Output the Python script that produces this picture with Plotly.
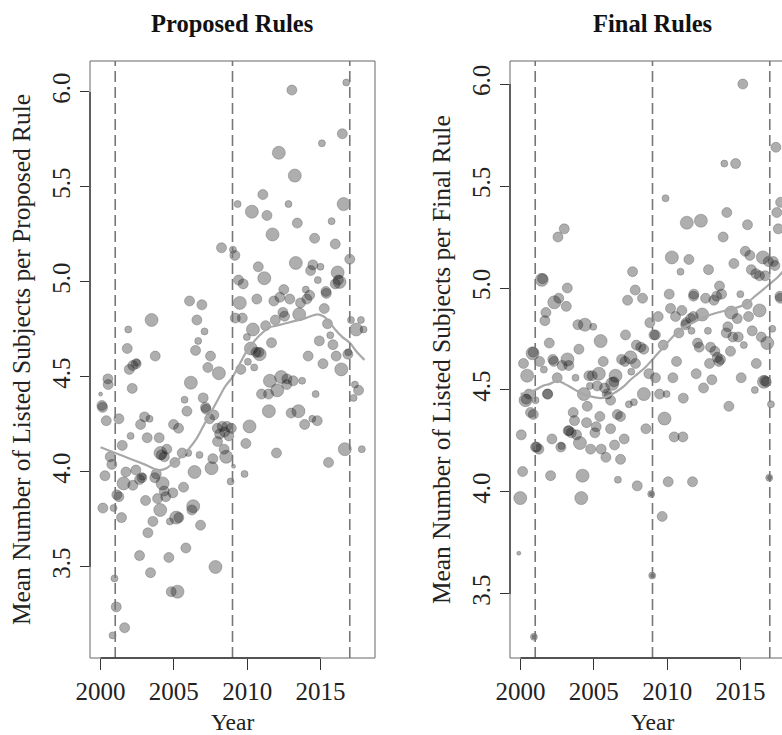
import plotly.graph_objects as go

# ---------------- data ----------------
# Proposed rules: (year, mean number of listed subjects, size class of the month's rule count)
p_year = [2013.05, 2016.76, 2016.49, 2015.10, 2012.16, 2013.25, 2011.07, 2009.35, 2012.82, 2016.58,
          2010.32, 2011.35, 2013.42, 2015.76, 2011.73, 2014.60, 2016.01, 2008.25, 2009.03, 2009.16,
          2017.00, 2010.76, 2013.32, 2014.48, 2015.00, 2014.33, 2016.17, 2011.17, 2009.41, 2009.73,
          2014.82, 2016.30, 2016.22, 2016.01, 2012.50, 2014.00, 2014.26, 2015.37, 2015.40, 2006.07,
          2006.91, 2009.50, 2010.66, 2011.82, 2012.23, 2012.91, 2013.64, 2014.07, 2015.26, 2003.48,
          2006.57, 2009.19, 2009.67, 2011.26, 2011.92, 2012.44, 2012.55, 2013.55, 2015.48, 2017.08,
          2017.76, 2017.44, 2017.94, 2001.89, 2007.09, 2010.39, 2009.98, 2015.67, 2011.66, 2014.92,
          2015.85, 2006.66, 2001.82, 2006.48, 2010.25, 2010.85, 2010.80, 2010.60, 2007.50, 2003.73,
          2014.16, 2016.07, 2016.87, 2016.90, 2002.43, 2002.47, 2002.20, 2001.96, 2007.32, 2008.07,
          2010.05, 2010.48, 2009.57, 2015.17, 2016.42, 2000.50, 2000.52, 2002.16, 2006.16, 2011.55,
          2012.32, 2012.71, 2013.14, 2013.75, 2012.70, 2012.05, 2010.98, 2011.46, 2014.67, 2017.35,
          2017.60, 2017.26, 2000.00, 2005.73, 2007.00, 2000.09, 2000.14, 2005.89, 2007.16, 2007.20,
          2011.48, 2013.00, 2013.50, 2000.39, 2001.25, 2003.00, 2003.34, 2007.44, 2007.73, 2014.44,
          2014.78, 2013.92, 2010.16, 2002.73, 2004.98, 2005.32, 2007.96, 2008.30, 2008.62, 2008.92,
          2008.12, 2008.46, 2008.75, 2002.05, 2003.18, 2004.00, 2001.48, 2007.98, 2009.91, 2012.00,
          2016.66, 2017.82, 2004.09, 2004.15, 2004.52, 2004.35, 2005.57, 2005.98, 2006.75, 2008.43,
          2008.57, 2000.66, 2000.77, 2015.55, 2005.07, 2007.66, 2009.07, 2000.30, 2001.73, 2002.41,
          2003.80, 2003.70, 2001.57, 2002.20, 2002.66, 2002.82, 2002.86, 2006.41, 2007.57, 2009.82,
          2008.87, 2004.23, 2005.66, 2001.11, 2001.25, 2004.34, 2004.45, 2004.93, 2003.89, 2003.07,
          2000.16, 2000.89, 2004.07, 2006.23, 2006.32, 2001.43, 2005.16, 2005.34, 2004.73, 2003.57,
          2006.82, 2003.23, 2005.82, 2002.66, 2004.66, 2007.84, 2003.41, 2004.82, 2005.25, 2000.95,
          2001.07, 2001.64, 2000.82]
p_mean = [6.01, 6.05, 5.78, 5.73, 5.68, 5.56, 5.46, 5.41, 5.41, 5.41,
          5.37, 5.35, 5.31, 5.32, 5.25, 5.23, 5.20, 5.18, 5.17, 5.14,
          5.12, 5.08, 5.10, 5.09, 5.08, 5.06, 5.05, 5.02, 5.01, 4.99,
          5.01, 5.00, 5.01, 4.99, 4.96, 4.96, 4.93, 4.95, 4.94, 4.90,
          4.88, 4.89, 4.91, 4.90, 4.92, 4.91, 4.89, 4.91, 4.86, 4.80,
          4.80, 4.81, 4.81, 4.77, 4.80, 4.84, 4.82, 4.83, 4.78, 4.80,
          4.80, 4.75, 4.75, 4.75, 4.74, 4.75, 4.71, 4.72, 4.68, 4.69,
          4.67, 4.69, 4.65, 4.64, 4.65, 4.62, 4.63, 4.63, 4.61, 4.61,
          4.61, 4.61, 4.62, 4.63, 4.57, 4.575, 4.56, 4.54, 4.55, 4.52,
          4.58, 4.55, 4.54, 4.57, 4.54, 4.49, 4.46, 4.44, 4.47, 4.48,
          4.50, 4.49, 4.48, 4.48, 4.46, 4.43, 4.41, 4.41, 4.41, 4.46,
          4.43, 4.39, 4.41, 4.38, 4.39, 4.35, 4.34, 4.32, 4.34, 4.33,
          4.32, 4.31, 4.32, 4.27, 4.28, 4.29, 4.28, 4.28, 4.30, 4.28,
          4.27, 4.25, 4.24, 4.25, 4.25, 4.23, 4.23, 4.24, 4.24, 4.23,
          4.20, 4.21, 4.19, 4.19, 4.18, 4.18, 4.14, 4.16, 4.15, 4.10,
          4.12, 4.12, 4.10, 4.09, 4.12, 4.08, 4.10, 4.10, 4.09, 4.12,
          4.08, 4.08, 4.04, 4.05, 4.05, 4.07, 4.03, 3.98, 4.00, 4.01,
          3.99, 3.97, 3.94, 3.93, 3.96, 3.97, 3.975, 4.00, 4.02, 3.99,
          3.95, 3.94, 3.92, 3.88, 3.87, 3.90, 3.87, 3.89, 3.86, 3.85,
          3.81, 3.81, 3.80, 3.80, 3.82, 3.76, 3.76, 3.76, 3.74, 3.74,
          3.72, 3.68, 3.60, 3.56, 3.55, 3.50, 3.47, 3.37, 3.37, 3.44,
          3.29, 3.18, 3.14]
p_weight = [2, 1, 2, 1, 3, 3, 2, 1, 1, 3,
            3, 2, 2, 1, 3, 2, 2, 2, 1, 2,
            2, 2, 3, 2, 1, 2, 3, 3, 2, 2,
            1, 3, 2, 2, 2, 1, 2, 2, 2, 2,
            2, 3, 2, 2, 2, 2, 2, 2, 2, 3,
            2, 2, 2, 2, 2, 2, 2, 3, 2, 1,
            1, 3, 1, 1, 1, 3, 1, 1, 2, 2,
            2, 1, 2, 2, 3, 3, 2, 2, 2, 2,
            2, 2, 2, 1, 2, 1, 2, 2, 2, 3,
            1, 1, 2, 2, 3, 2, 2, 2, 3, 3,
            3, 2, 2, 1, 2, 3, 2, 2, 1, 1,
            2, 1, 0, 1, 2, 2, 2, 2, 2, 2,
            3, 2, 3, 2, 2, 2, 1, 2, 2, 1,
            2, 2, 3, 2, 2, 2, 2, 2, 2, 2,
            2, 2, 2, 1, 2, 2, 2, 2, 2, 2,
            3, 1, 3, 2, 2, 2, 2, 1, 1, 2,
            3, 2, 2, 2, 2, 2, 0, 2, 2, 2,
            2, 2, 3, 2, 2, 2, 1, 3, 3, 1,
            1, 3, 2, 2, 2, 2, 2, 2, 2, 2,
            2, 1, 3, 2, 3, 2, 3, 2, 1, 2,
            2, 2, 2, 2, 2, 3, 2, 2, 3, 1,
            2, 2, 1]

# Final rules
f_year = [2015.16, 2017.42, 2013.90, 2014.67, 2009.89, 2017.74, 2017.48, 2014.07, 2011.34, 2012.30,
          2015.48, 2017.58, 2002.55, 2002.98, 2013.82, 2010.32, 2011.48, 2015.33, 2015.64, 2016.53,
          2016.90, 2017.24, 2017.35, 2014.55, 2010.91, 2012.82, 2015.74, 2016.05, 2016.30, 2016.69,
          2007.64, 2001.45, 2001.50, 2003.19, 2007.82, 2002.61, 2002.30, 2007.30, 2008.32, 2010.14,
          2011.82, 2011.80, 2012.62, 2013.19, 2013.37, 2013.57, 2013.71, 2014.99, 2015.46, 2017.69,
          2017.72, 2003.12, 2001.66, 2001.73, 2003.91, 2004.39, 2004.96, 2008.82, 2009.39, 2010.23,
          2010.57, 2011.00, 2011.26, 2011.30, 2011.60, 2011.78, 2012.39, 2012.78, 2011.66, 2010.80,
          2014.37, 2014.78, 2015.55, 2016.30, 2015.80, 2017.17, 2014.14, 2014.03, 2014.48, 2014.85,
          2016.42, 2016.83, 2015.23, 2014.32, 2001.96, 2005.46, 2007.16, 2009.10, 2009.20, 2009.73,
          2007.90, 2008.20, 2008.40, 2012.19, 2012.07, 2012.96, 2013.25, 2013.42, 2013.64, 2012.89,
          2000.82, 2000.86, 2000.20, 2001.30, 2001.59, 2002.20, 2002.27, 2002.84, 2003.20, 2003.29,
          2003.98, 2005.64, 2006.89, 2007.12, 2007.50, 2007.84, 2007.55, 2008.75, 2010.64, 2011.98,
          2013.05, 2013.53, 2016.08, 2015.05, 2015.98, 2016.60, 2016.65, 2016.76, 2017.08, 2000.45,
          2002.50, 2003.75, 2004.66, 2004.89, 2005.34, 2004.73, 2005.23, 2005.73, 2006.37, 2006.48,
          2006.25, 2004.32, 2001.86, 2001.83, 2000.57, 2000.34, 2000.38, 2001.02, 2005.91, 2005.95,
          2006.14, 2004.55, 2007.39, 2007.73, 2008.41, 2009.48, 2009.96, 2011.10, 2014.21, 2000.68,
          2000.87, 2003.59, 2003.68, 2005.41, 2006.60, 2006.82, 2009.82, 2004.50, 2005.16, 2005.07,
          2006.14, 2003.25, 2003.30, 2003.46, 2003.82, 2004.05, 2000.05, 2002.14, 2008.55, 2007.07,
          2010.48, 2011.07, 2001.02, 2001.10, 2001.25, 2002.75, 2002.79, 2004.78, 2005.50, 2005.82,
          2006.41, 2006.82, 2000.14, 2002.05, 2004.23, 2006.64, 2007.96, 2010.07, 2011.73, 1999.98,
          2004.14, 2008.91, 2008.93, 2009.66, 2016.96, 2016.98, 1999.88, 2008.98, 2009.00, 2000.91,
          2000.93, 2009.20, 2010.39, 2012.48]
f_mean = [6.00, 5.69, 5.61, 5.61, 5.44, 5.42, 5.37, 5.37, 5.32, 5.33,
          5.31, 5.29, 5.25, 5.29, 5.25, 5.15, 5.14, 5.18, 5.16, 5.15,
          5.13, 5.13, 5.11, 5.12, 5.08, 5.09, 5.09, 5.07, 5.06, 5.06,
          5.08, 5.04, 5.045, 5.00, 4.99, 4.95, 4.93, 4.94, 4.95, 4.97,
          4.97, 4.96, 4.95, 4.94, 4.96, 5.01, 4.97, 4.97, 4.92, 4.96,
          4.95, 4.91, 4.84, 4.88, 4.82, 4.82, 4.81, 4.83, 4.86, 4.90,
          4.86, 4.89, 4.82, 4.83, 4.85, 4.86, 4.87, 4.79, 4.79, 4.78,
          4.88, 4.85, 4.86, 4.89, 4.79, 4.80, 4.81, 4.78, 4.76, 4.76,
          4.76, 4.73, 4.72, 4.69, 4.73, 4.74, 4.77, 4.77, 4.77, 4.72,
          4.72, 4.71, 4.70, 4.71, 4.73, 4.71, 4.69, 4.66, 4.65, 4.63,
          4.68, 4.685, 4.63, 4.64, 4.60, 4.65, 4.64, 4.62, 4.65, 4.62,
          4.70, 4.64, 4.65, 4.64, 4.66, 4.63, 4.59, 4.58, 4.64, 4.58,
          4.55, 4.64, 4.63, 4.56, 4.50, 4.54, 4.545, 4.54, 4.43, 4.57,
          4.56, 4.56, 4.57, 4.57, 4.58, 4.52, 4.52, 4.51, 4.54, 4.57,
          4.53, 4.48, 4.48, 4.48, 4.48, 4.45, 4.455, 4.45, 4.48, 4.475,
          4.45, 4.42, 4.43, 4.44, 4.48, 4.48, 4.48, 4.46, 4.42, 4.39,
          4.38, 4.39, 4.35, 4.37, 4.38, 4.37, 4.36, 4.34, 4.32, 4.29,
          4.31, 4.30, 4.30, 4.29, 4.28, 4.24, 4.28, 4.26, 4.31, 4.26,
          4.27, 4.27, 4.22, 4.22, 4.21, 4.22, 4.225, 4.21, 4.21, 4.17,
          4.23, 4.16, 4.10, 4.08, 4.08, 4.06, 4.03, 4.05, 4.05, 3.97,
          3.97, 3.99, 3.99, 3.88, 4.07, 4.07, 3.70, 3.59, 3.59, 3.29,
          3.29, 4.56, 4.56, 4.51]
f_weight = [2, 2, 1, 2, 1, 2, 2, 2, 3, 3,
            2, 2, 2, 2, 2, 3, 2, 2, 2, 3,
            2, 2, 2, 2, 1, 2, 2, 2, 2, 2,
            2, 3, 2, 2, 2, 2, 3, 2, 2, 2,
            2, 2, 2, 2, 2, 2, 2, 1, 2, 2,
            2, 2, 2, 2, 2, 3, 1, 2, 2, 2,
            2, 2, 2, 2, 2, 2, 3, 1, 1, 2,
            3, 2, 2, 3, 2, 1, 2, 2, 2, 2,
            2, 3, 1, 2, 2, 3, 2, 2, 2, 2,
            2, 2, 2, 2, 2, 2, 2, 2, 2, 2,
            3, 2, 2, 2, 1, 2, 2, 2, 3, 2,
            2, 2, 2, 2, 3, 2, 1, 2, 2, 2,
            2, 2, 2, 2, 1, 3, 2, 2, 1, 3,
            2, 1, 2, 2, 3, 1, 2, 2, 2, 3,
            3, 3, 2, 2, 2, 3, 2, 1, 2, 1,
            2, 2, 1, 1, 3, 2, 1, 2, 2, 2,
            2, 2, 2, 2, 2, 2, 3, 2, 2, 2,
            2, 2, 2, 2, 2, 3, 2, 2, 2, 2,
            2, 2, 2, 2, 2, 2, 1, 2, 2, 2,
            2, 2, 2, 2, 3, 1, 2, 2, 2, 3,
            3, 1, 0, 2, 1, 0, 0, 1, 0, 1,
            0, 2, 2, 2]

# smoothed (loess) trend lines
p_smooth_year = [2000, 2001, 2002, 2003, 2004, 2004.5, 2005, 2005.5, 2006, 2006.5, 2007, 2007.5,
                 2008, 2008.5, 2009, 2009.5, 2010, 2010.5, 2011, 2011.5, 2012, 2013, 2014, 2014.8,
                 2015.2, 2015.5, 2016, 2016.5, 2017, 2017.5, 2018]
p_smooth = [4.13, 4.10, 4.07, 4.04, 4.01, 4.02, 4.05, 4.08, 4.12, 4.17, 4.24, 4.31,
            4.38, 4.45, 4.50, 4.57, 4.64, 4.69, 4.73, 4.76, 4.77, 4.79, 4.81, 4.83,
            4.82, 4.80, 4.75, 4.71, 4.68, 4.63, 4.59]
f_smooth_year = [2000, 2000.5, 2001, 2001.5, 2002, 2002.5, 2003, 2003.5, 2004, 2004.5, 2005, 2005.5,
                 2006, 2006.5, 2007, 2007.5, 2008, 2008.5, 2009, 2009.5, 2010, 2010.5, 2011, 2011.5,
                 2012, 2013, 2014, 2015, 2015.5, 2016, 2016.5, 2017, 2017.5, 2018]
f_smooth = [4.48, 4.49, 4.50, 4.52, 4.53, 4.545, 4.53, 4.51, 4.49, 4.475, 4.465, 4.46,
            4.47, 4.49, 4.515, 4.55, 4.58, 4.61, 4.65, 4.69, 4.73, 4.77, 4.80, 4.82,
            4.84, 4.87, 4.89, 4.91, 4.93, 4.96, 4.99, 5.02, 5.05, 5.09]

event_years = [2001, 2009, 2017]
x_ticks = [2000, 2005, 2010, 2015]
y_ticks = [3.5, 4.0, 4.5, 5.0, 5.5, 6.0]
panel_titles = ["Proposed Rules", "Final Rules"]
y_titles = ["Mean Number of Listed Subjects per Proposed Rule",
            "Mean Number of Listed Subjects per Final Rule"]
x_title = "Year"

# ---------------- figure ----------------
W, H = 782, 735
FONT = "Liberation Serif"
size_px = {0: 4, 1: 7, 2: 10, 3: 13}

def px_x(v):
    return v / W

def px_y(v):
    return (H - v) / H

fig = go.Figure()

marker_style = dict(color="rgba(25,25,25,0.5)", line=dict(color="rgba(25,25,25,0.38)", width=1))

fig.add_trace(go.Scatter(x=p_year, y=p_mean, mode="markers", xaxis="x", yaxis="y",
                         marker=dict(size=[size_px[w] for w in p_weight], **marker_style),
                         showlegend=False, hoverinfo="x+y"))
fig.add_trace(go.Scatter(x=p_smooth_year, y=p_smooth, mode="lines", xaxis="x", yaxis="y",
                         line=dict(color="#a8a8a8", width=2.2, shape="spline"), showlegend=False))
fig.add_trace(go.Scatter(x=f_year, y=f_mean, mode="markers", xaxis="x2", yaxis="y2",
                         marker=dict(size=[size_px[w] for w in f_weight], **marker_style),
                         showlegend=False, hoverinfo="x+y"))
fig.add_trace(go.Scatter(x=f_smooth_year, y=f_smooth, mode="lines", xaxis="x2", yaxis="y2",
                         line=dict(color="#a8a8a8", width=2.2, shape="spline"), showlegend=False))

ydom = [px_y(658), px_y(61)]
x_range_left = [1999.28, 2018.72]
ppy = 285 / (x_range_left[1] - x_range_left[0])
x_range_right = [1999.28, 1999.28 + (W - 510) / ppy]

tickfont = dict(family=FONT, size=25, color="#222")
common_x = dict(tickvals=x_ticks, ticktext=[str(t) for t in x_ticks], ticks="outside", ticklen=11,
                tickcolor="#333", tickwidth=1, showgrid=False, zeroline=False, showline=False,
                tickfont=tickfont, automargin=False, fixedrange=True)
common_y = dict(tickvals=y_ticks, ticktext=[f"{t:.1f}" for t in y_ticks], ticks="outside", ticklen=9,
                tickcolor="#333", tickwidth=1, showgrid=False, zeroline=False, showline=False,
                tickfont=tickfont, tickangle=-90, automargin=False, fixedrange=True)

fig.update_layout(
    template="none",
    width=W, height=H, autosize=False,
    margin=dict(l=0, r=0, t=0, b=0, pad=0),
    paper_bgcolor="white", plot_bgcolor="white",
    font=dict(family=FONT, color="#222"),
    showlegend=False,
    xaxis=dict(domain=[px_x(90), px_x(375)], range=x_range_left, anchor="y", **common_x),
    yaxis=dict(domain=ydom, range=[3.021, 6.163], anchor="x", **common_y),
    xaxis2=dict(domain=[px_x(510), 1.0], range=x_range_right, anchor="y2", **common_x),
    yaxis2=dict(domain=ydom, range=[3.186, 6.113], anchor="x2", **common_y),
)

shapes = []
box_col = "#666"
# panel boxes (right one runs past the window edge)
shapes.append(dict(type="rect", xref="x domain", yref="y domain", x0=0, x1=1, y0=0, y1=1,
                   line=dict(color=box_col, width=1)))
shapes.append(dict(type="rect", xref="x2 domain", yref="y2 domain", x0=0, x1=285 / (W - 510), y0=0, y1=1,
                   line=dict(color=box_col, width=1)))
for xa, ya in (("x", "y"), ("x2", "y2")):
    for ev in event_years:
        shapes.append(dict(type="line", xref=xa, yref=f"{ya} domain", x0=ev, x1=ev, y0=0, y1=1,
                           line=dict(color="#777", width=1.6, dash="11px,5px")))
    # R-style axis segments spanning the ticks
    shapes.append(dict(type="line", xref=xa, yref=f"{ya} domain", x0=x_ticks[0], x1=x_ticks[-1], y0=0, y1=0,
                       line=dict(color="#333", width=1.3)))
    shapes.append(dict(type="line", xref=f"{xa} domain", yref=ya, x0=0, x1=0, y0=y_ticks[0], y1=y_ticks[-1],
                       line=dict(color="#333", width=1.3)))
fig.update_layout(shapes=shapes)

ann = []
for title, cx in zip(panel_titles, (232.5, 652.5)):
    ann.append(dict(text=f"<b>{title}</b>", x=px_x(cx), y=px_y(24), xref="paper", yref="paper",
                    xanchor="center", yanchor="middle", showarrow=False,
                    font=dict(family=FONT, size=24.5, color="#111")))
    ann.append(dict(text=x_title, x=px_x(cx), y=px_y(722), xref="paper", yref="paper",
                    xanchor="center", yanchor="middle", showarrow=False,
                    font=dict(family=FONT, size=23.5, color="#222")))
for title, cx in zip(y_titles, (21, 441)):
    ann.append(dict(text=title, x=px_x(cx), y=px_y(360), xref="paper", yref="paper",
                    xanchor="center", yanchor="middle", showarrow=False, textangle=-90,
                    font=dict(family=FONT, size=25.4, color="#222")))
fig.update_layout(annotations=ann)

fig.write_html("out.html", config={"displayModeBar": False},
               post_script="document.body.style.margin='0';document.body.style.overflow='hidden';")
